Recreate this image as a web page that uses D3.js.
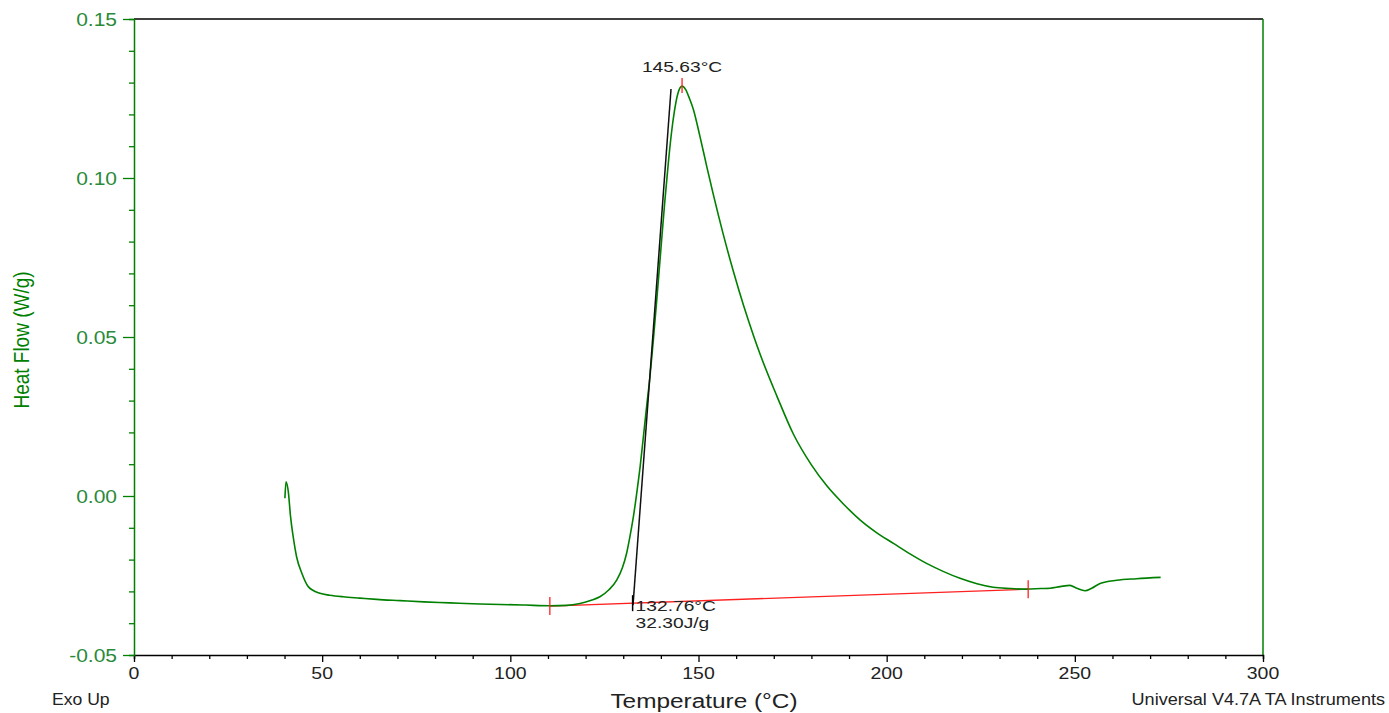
<!DOCTYPE html>
<html>
<head>
    <title>DSC Heat Flow</title>
    <script src="https://d3js.org/d3.v7.min.js"></script>
    <style>
        body { margin: 0; background: #fff; }
        svg { font-family: "Liberation Sans", Arial, sans-serif; }
        .curve { fill: none; stroke: #008000; stroke-width: 1.6px; }
        .tangent { fill: none; stroke: #111; stroke-width: 1.5px; }
        .baseline { fill: none; stroke: #ff2020; stroke-width: 1.3px; }
    </style>
</head>
<body>
    <svg width="1389" height="713"></svg>
    <script>
        // heat flow curve
        const tempC = [40.1, 40.4, 41.0, 41.6, 42.3, 43.2, 44.6, 46.3, 49.4, 52.0, 55.6, 60.0, 64.5, 70.7, 77.0, 84.0, 90.0, 97.3, 104.0, 110.5,
            115.0, 118.5, 121.5, 123.8, 126.2, 128.3, 129.8, 130.9, 131.9, 132.7, 133.6, 134.5, 135.3, 136.2, 137.1, 138.0, 139.0, 140.0, 141.0, 142.0,
            142.8, 143.6, 144.5, 145.63, 146.6, 147.6, 148.6, 150.4, 152.2, 153.9, 156.6, 159.3, 162.0, 164.6, 166.4, 170.8, 175.2, 180.0, 184.1,
            188.5, 192.9, 197.3, 201.8, 206.2, 210.6, 215.0, 219.5, 224.0, 228.3, 232.8, 237.2, 241.0, 243.4, 246.1, 248.7, 250.5, 252.7, 254.5, 256.7,
            261.1, 266.4, 272.8];
        const heatFlow = [-0.0007, 0.0045, 0.0014, -0.0065, -0.0128, -0.0191, -0.0243, -0.0285, -0.0306, -0.0312, -0.0317, -0.0321, -0.0325, -0.0329, -0.0333, -0.0336, -0.0339, -0.0341, -0.0343, -0.0345,
            -0.0344, -0.0338, -0.0328, -0.0317, -0.0295, -0.0264, -0.0225, -0.0180, -0.0120, -0.0065, 0.0010, 0.0093, 0.0180, 0.0280, 0.0375, 0.0490, 0.0630, 0.0775, 0.0920, 0.1050,
            0.1140, 0.1210, 0.1265, 0.1289, 0.1278, 0.1250, 0.1217, 0.1130, 0.1036, 0.0950, 0.0822, 0.0705, 0.0598, 0.0505, 0.0445, 0.0315, 0.0195, 0.0098, 0.0032,
            -0.0025, -0.0075, -0.0115, -0.0149, -0.0182, -0.0212, -0.0237, -0.0259, -0.0276, -0.0287, -0.0291, -0.0293, -0.0291, -0.0290, -0.0285, -0.0281, -0.0290, -0.0298, -0.0290, -0.0275,
            -0.0265, -0.0260, -0.0256];

        // analysis lines
        const baselineT = [110.5, 237.6];
        const baselineHF = [-0.0346, -0.0293];
        const tangentT = [132.6, 142.7];
        const tangentHF = [-0.0343, 0.128];
        const peakT = 145.63, peakHF = 0.1289;
        const onsetT = 132.76, onsetHF = -0.0337;
        const peakLabel = "145.63°C";
        const onsetLabels = ["132.76°C", "32.30J/g"];

        const xTicks = [0, 50, 100, 150, 200, 250, 300];
        const yTicks = [-0.05, 0.00, 0.05, 0.10, 0.15];

        const plotL = 134, plotR = 1263, plotT = 19, plotB = 655;
        const green = "#008000", labelGreen = "#2a8a3a", dark = "#222";

        const svg = d3.select("svg");
        const x = d3.scaleLinear().domain([0, 300]).range([plotL, plotR]);
        const y = d3.scaleLinear().domain([-0.05, 0.15]).range([plotB, plotT]);

        // the original printout is a bit wide, so text gets stretched sideways
        function label(px, py, str, size, stretch, fill, anchor) {
            return svg.append("text")
                .attr("transform", `translate(${px},${py}) scale(${stretch},1)`)
                .attr("font-size", size).attr("fill", fill)
                .attr("text-anchor", anchor || "start").text(str);
        }

        // frame: top black, right green
        svg.append("line").attr("x1", plotL).attr("x2", plotR).attr("y1", plotT).attr("y2", plotT)
            .attr("stroke", "#000").attr("stroke-width", 1.3);
        svg.append("line").attr("x1", plotR).attr("x2", plotR).attr("y1", plotT).attr("y2", plotB)
            .attr("stroke", green).attr("stroke-width", 1.5);

        // x axis
        const xAxis = svg.append("g").attr("transform", `translate(0,${plotB})`)
            .call(d3.axisBottom(x).tickValues(d3.range(0, 301, 10)).tickSize(4).tickFormat(""));
        xAxis.select(".domain").attr("stroke", "#000").attr("stroke-width", 1.5);
        xAxis.selectAll(".tick line").attr("stroke", "#000").attr("stroke-width", 1.3)
            .attr("y2", d => d % 50 === 0 ? 7 : 4);
        xTicks.forEach(t => label(x(t), 679, t, 16.5, 1.18, dark, "middle"));

        // y axis
        const yAxis = svg.append("g").attr("transform", `translate(${plotL},0)`)
            .call(d3.axisLeft(y).tickValues(d3.range(-0.05, 0.1501, 0.01)).tickSize(5).tickFormat(""));
        yAxis.select(".domain").attr("stroke", green).attr("stroke-width", 1.5);
        yAxis.selectAll(".tick line").attr("stroke", green).attr("stroke-width", 1.3)
            .attr("x2", (d, i) => i % 5 === 0 ? -11 : -5);
        yTicks.forEach(t => label(117, y(t) + 6.5, t.toFixed(2), 17.5, 1.2, labelGreen, "end"));

        // axis titles and footers
        svg.append("text").attr("transform", "translate(29,340) rotate(-90) scale(1,1.2)")
            .attr("text-anchor", "middle").attr("font-size", 19).attr("fill", green).text("Heat Flow (W/g)");
        label(704, 708, "Temperature (°C)", 19.5, 1.25, dark, "middle");
        label(52, 705, "Exo Up", 16, 1.1, dark);
        label(1385, 705, "Universal V4.7A TA Instruments", 16, 1.13, dark, "end");

        // baseline
        const line = d3.line().x(d => x(d[0])).y(d => y(d[1]));
        svg.append("path").attr("class", "baseline").attr("d", line(d3.zip(baselineT, baselineHF)));

        // curve
        svg.append("path").attr("class", "curve")
            .attr("d", d3.line().x(d => x(d[0])).y(d => y(d[1])).curve(d3.curveMonotoneX)(d3.zip(tempC, heatFlow)));

        // onset tangent
        svg.append("path").attr("class", "tangent").attr("d", line(d3.zip(tangentT, tangentHF)));

        // markers
        baselineT.forEach((t, i) => {
            svg.append("line").attr("x1", x(t)).attr("x2", x(t))
                .attr("y1", y(baselineHF[i]) - 9).attr("y2", y(baselineHF[i]) + 9)
                .attr("stroke", "#ff2020").attr("stroke-width", 1.3);
        });
        svg.append("line").attr("x1", x(peakT)).attr("x2", x(peakT))
            .attr("y1", y(peakHF) - 8).attr("y2", y(peakHF) + 7)
            .attr("stroke", "#ff2020").attr("stroke-width", 1.3);
        svg.append("line").attr("x1", x(onsetT) - 1).attr("x2", x(onsetT) - 1)
            .attr("y1", y(onsetHF) - 8).attr("y2", y(onsetHF) + 8)
            .attr("stroke", "#000").attr("stroke-width", 1.5);

        // annotations
        label(x(peakT), y(peakHF) - 14, peakLabel, 15.5, 1.24, dark, "middle");
        label(x(onsetT) + 2, y(onsetHF) + 8, onsetLabels[0], 15.5, 1.24, dark);
        label(x(onsetT) + 2, y(onsetHF) + 25, onsetLabels[1], 15.5, 1.24, dark);
    </script>
</body>
</html>
